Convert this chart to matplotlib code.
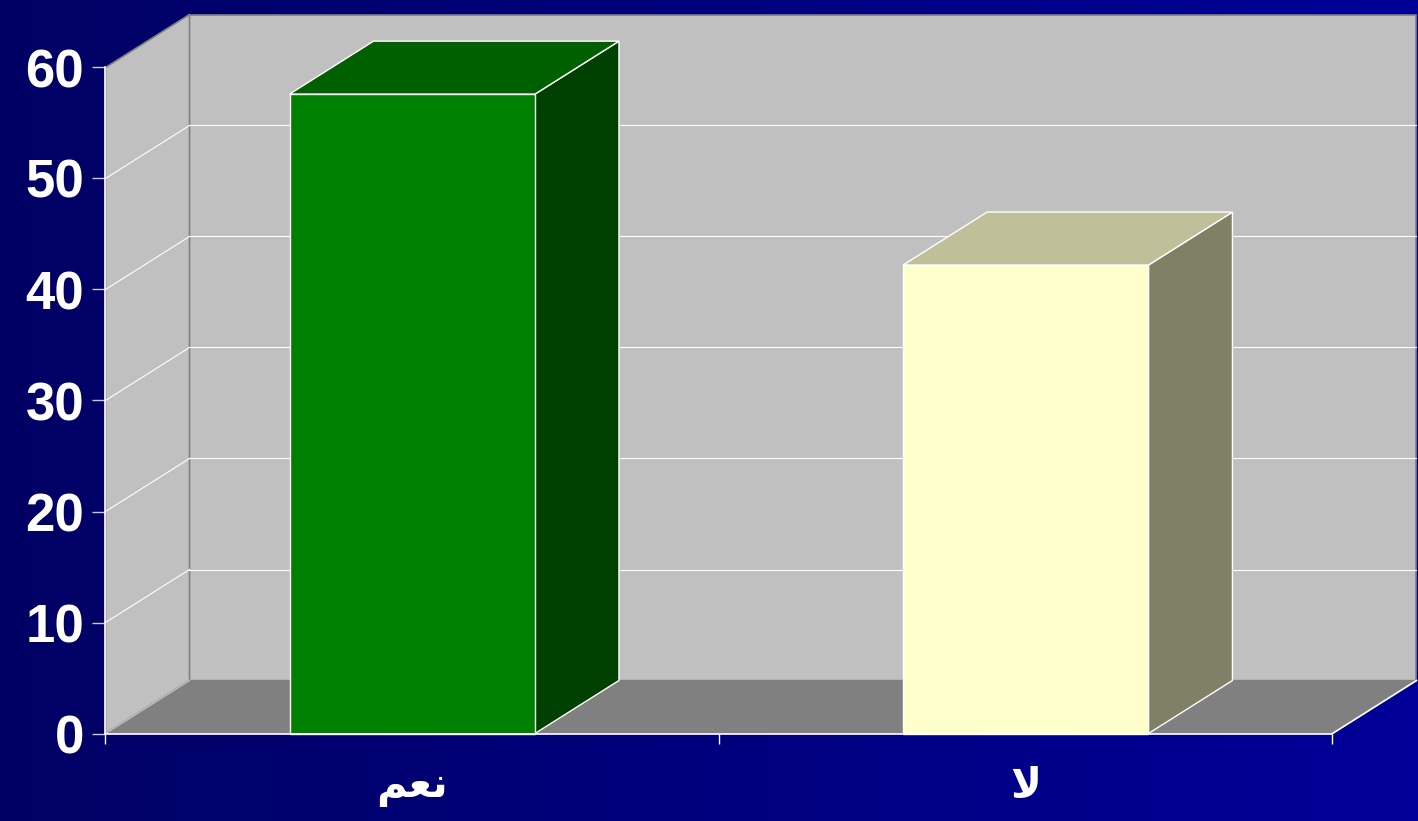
import numpy as np
from matplotlib import pyplot as plt
from matplotlib.patches import Polygon

# arabic is written in visual order with presentation forms, matplotlib does not shape it
categories = ['\ufee2\ufecc\ufee7', '\ufefb']
values = [57.6, 42.2]
value_ticks = [0, 10, 20, 30, 40, 50, 60]
front_colors = ['#008000', '#FFFFCC']
top_colors = ['#006000', '#BFBF99']
side_colors = ['#004000', '#808066']

W, H = 1418, 821
CAT_PX = 613.5   # pixels per category
VAL_PX = 11.1    # pixels per unit of value
X0_PX, Y0_PX = 105.5, 733.5  # where the origin sits in the image
DX = 84 / CAT_PX  # oblique depth
DY = 53 / VAL_PX
BAR_W = 0.4

fig = plt.figure(figsize=(W / 100, H / 100), dpi=100)
ax = fig.add_axes([0, 0, 1, 1])
ax.set_xlim(-X0_PX / CAT_PX, (W - X0_PX) / CAT_PX)
ax.set_ylim((Y0_PX - H) / VAL_PX, Y0_PX / VAL_PX)

# background gradient
grad = np.linspace(0, 1, 256).reshape(1, -1)
bg = np.zeros((1, 256, 3))
bg[..., 2] = (100 + 52 * grad) / 255
ax.imshow(bg, extent=[*ax.get_xlim(), *ax.get_ylim()], aspect='auto', zorder=0)

n = len(categories)
ymax = value_ticks[-1]

# walls and floor
ax.add_patch(Polygon([(DX, DY), (n + DX, DY), (n + DX, ymax + DY), (DX, ymax + DY)],
                     fc='#C0C0C0', ec='#808080', lw=1.2, zorder=1))
ax.add_patch(Polygon([(0, 0), (DX, DY), (DX, ymax + DY), (0, ymax)],
                     fc='#C0C0C0', ec='#808080', lw=1.2, zorder=1))
ax.add_patch(Polygon([(0, 0), (n, 0), (n + DX, DY), (DX, DY)],
                     fc='#808080', ec='#808080', lw=1.0, zorder=1))

# gridlines on back and side wall
for v in value_ticks[1:-1]:
    ax.plot([DX, n + DX], [v + DY, v + DY], color='white', lw=0.8, zorder=2)
    ax.plot([0, DX], [v, v + DY], color='white', lw=0.8, zorder=2)
ax.plot([n, n + DX], [0, DY], color='white', lw=1.2, zorder=2)
ax.plot([0, DX], [0, DY], color='#C0C0C0', lw=1.0, zorder=2)

# bars
for i, v in enumerate(values):
    left = i + 0.5 - BAR_W / 2
    right = i + 0.5 + BAR_W / 2
    ax.add_patch(Polygon([(right, 0), (right + DX, DY), (right + DX, v + DY), (right, v)],
                         fc=side_colors[i], ec='white', lw=1.0, zorder=3))
    ax.add_patch(Polygon([(left, v), (right, v), (right + DX, v + DY), (left + DX, v + DY)],
                         fc=top_colors[i], ec='white', lw=1.0, zorder=3))
    ax.bar(i + 0.5, v, BAR_W, color=front_colors[i], edgecolor='white', lw=1.0, zorder=4)

# axes
for s in ['top', 'right']:
    ax.spines[s].set_visible(False)
ax.spines['left'].set_position(('data', 0))
ax.spines['bottom'].set_position(('data', 0))
ax.spines['left'].set_bounds(0, ymax)
ax.spines['bottom'].set_bounds(0, n)
for s in ['left', 'bottom']:
    ax.spines[s].set_color('white')
    ax.spines[s].set_linewidth(1.2)
    ax.spines[s].set_zorder(5)

ax.set_yticks(value_ticks)
ax.set_yticklabels([str(v) for v in value_ticks], color='white', fontsize=38,
                   fontweight='bold', family='Liberation Sans')
ax.tick_params(axis='y', length=9.4, width=1, color='#C8C8D8', pad=6)
ax.set_xticks(np.arange(n + 1))
ax.set_xticklabels([])
ax.tick_params(axis='x', which='major', length=7.5, width=1, color='white')
ax.set_xticks(np.arange(n) + 0.5, minor=True)
ax.set_xticklabels(categories, minor=True, color='white', fontsize=30,
                   fontweight='bold', family='DejaVu Sans')
ax.tick_params(axis='x', which='minor', length=0, pad=23)

fig.savefig('out.png', dpi=100)
